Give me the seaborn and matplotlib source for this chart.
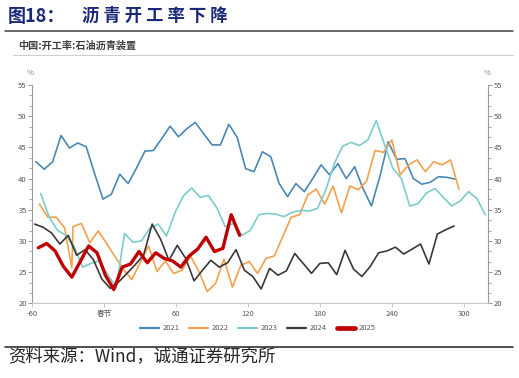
import pandas as pd
import matplotlib
matplotlib.use('Agg')
import matplotlib.pyplot as plt
from matplotlib.lines import Line2D
from matplotlib.ticker import MultipleLocator, AutoMinorLocator
import seaborn as sns

# days relative to Spring Festival, weekly asphalt plant operating rate (%)
days_2021 = [-57, -50, -43, -36, -29, -22, -15, -8, -1, 6, 13, 20, 27, 34, 41, 48, 55, 62, 69, 76,
             83, 90, 97, 104, 111, 118, 125, 132, 139, 146, 153, 160, 167, 174, 181, 188, 195, 202,
             209, 216, 223, 230, 237, 244, 251, 258, 265, 272, 279, 286, 293]
rate_2021 = [42.7, 41.5, 42.7, 46.9, 44.9, 45.7, 45.1, 40.8, 36.7, 37.5, 40.7, 39.2, 41.7, 44.4, 44.5,
             46.4, 48.4, 46.7, 48.0, 49.0, 47.2, 45.4, 45.4, 48.7, 46.6, 41.6, 41.1, 44.3, 43.5, 39.2,
             37.1, 39.2, 37.9, 40.0, 42.2, 40.6, 42.4, 40.0, 41.9, 38.4, 35.6, 40.3, 45.9, 43.1, 43.2,
             40.0, 39.1, 39.4, 40.3, 40.2, 39.9]

days_2022 = [-54, -47, -40, -33, -27, -26, -19, -12, -5, 2, 9, 16, 23, 30, 37, 44, 51, 58, 65, 72,
             79, 86, 93, 100, 107, 114, 121, 128, 135, 142, 149, 156, 163, 170, 177, 184, 191, 198,
             205, 212, 219, 226, 233, 240, 247, 254, 261, 268, 275, 282, 289, 296]
rate_2022 = [35.9, 33.8, 33.8, 32.1, 25.7, 32.3, 32.8, 29.7, 31.6, 29.6, 27.5, 25.5, 23.8, 26.5, 29.2,
             25.1, 26.8, 24.8, 25.3, 27.6, 25.1, 21.9, 23.2, 27.1, 22.6, 26.1, 26.7, 24.8, 27.2, 27.6,
             30.7, 33.8, 34.2, 37.4, 38.3, 35.9, 38.8, 34.5, 38.8, 38.2, 39.6, 44.5, 44.2, 46.2, 40.6,
             42.2, 43.0, 41.1, 42.7, 42.2, 43.0, 38.3]

days_2023 = [-53, -46, -39, -32, -25, -18, -11, -4, 3, 10, 17, 24, 31, 38, 45, 52, 59, 66, 73, 80,
             87, 94, 101, 108, 115, 122, 129, 136, 143, 150, 157, 164, 171, 178, 185, 192, 199, 206,
             213, 220, 227, 234, 241, 248, 255, 262, 269, 276, 283, 290, 297, 304, 311, 318]
rate_2023 = [37.6, 33.9, 31.7, 30.9, 29.1, 25.8, 26.4, 26.8, 24.6, 22.5, 31.2, 29.8, 30.0, 32.0, 32.7,
             30.8, 34.5, 37.2, 38.5, 37.0, 37.3, 35.3, 32.3, 32.8, 30.9, 31.7, 34.2, 34.4, 34.3, 33.9,
             34.6, 34.9, 34.8, 35.2, 38.2, 42.4, 45.2, 45.8, 45.3, 46.2, 49.3, 45.4, 41.6, 40.0, 35.6,
             36.0, 37.7, 38.4, 37.0, 35.6, 36.4, 37.9, 36.8, 34.2]

days_2024 = [-58, -51, -44, -37, -30, -23, -16, -9, -2, 5, 12, 19, 26, 33, 40, 47, 54, 61, 68, 75,
             82, 89, 96, 103, 110, 117, 124, 131, 138, 145, 152, 159, 166, 173, 180, 187, 194, 201,
             208, 215, 222, 229, 236, 243, 250, 257, 264, 271, 278, 285, 292]
rate_2024 = [32.7, 32.2, 31.3, 29.5, 30.9, 27.7, 28.6, 27.0, 23.9, 22.4, 23.4, 24.8, 26.2, 27.8, 32.7,
             30.3, 26.9, 29.3, 27.2, 23.6, 25.3, 26.9, 25.8, 26.5, 28.6, 25.3, 24.3, 22.3, 25.6, 24.5,
             25.2, 28.0, 26.4, 24.8, 26.4, 26.5, 24.6, 28.5, 25.5, 24.3, 25.9, 28.1, 28.4, 29.0, 27.9,
             28.7, 29.5, 26.3, 31.1, 31.8, 32.4]

days_2025 = [-55, -48, -41, -34, -27, -20, -13, -6, 1, 8, 15, 22, 29, 36, 43, 50, 57, 64, 71, 78,
             85, 92, 99, 106, 113]
rate_2025 = [28.9, 29.6, 28.4, 25.9, 24.2, 26.7, 29.2, 28.1, 24.5, 22.2, 25.8, 26.3, 28.3, 26.5, 28.1,
             27.2, 26.8, 25.8, 27.6, 28.7, 30.6, 28.3, 28.8, 34.2, 30.9]

years = ['2021', '2022', '2023', '2024', '2025']
x_ticks = [-60, 0, 60, 120, 180, 240, 300]
x_labels = ['-60', '春节', '60', '120', '180', '240', '300']

colors = {'2021': '#4A88B4', '2022': '#F5A04C', '2023': '#7DCBCB', '2024': '#3B3838', '2025': '#C00000'}
widths = {'2021': 1.2, '2022': 1.2, '2023': 1.2, '2024': 1.2, '2025': 2.4}

series = {'2021': (days_2021, rate_2021), '2022': (days_2022, rate_2022), '2023': (days_2023, rate_2023),
          '2024': (days_2024, rate_2024), '2025': (days_2025, rate_2025)}
frames = [pd.DataFrame({'day': d, 'rate': r, 'year': y}) for y, (d, r) in series.items()]
df = pd.concat(frames, ignore_index=True)

sns.set_style('white')
plt.rcParams['font.family'] = ['Noto Sans CJK SC', 'DejaVu Sans']

fig = plt.figure(figsize=(5.19, 3.78), dpi=100)
ax = fig.add_axes([0.0622, 0.1976, 0.8786, 0.5775])

for y in years:
    sns.lineplot(data=df[df['year'] == y], x='day', y='rate', ax=ax, color=colors[y],
                 linewidth=widths[y], sort=False, estimator=None, legend=False)

ax.set_xlim(-60, 320.5)
ax.set_ylim(20, 55)
ax.set_xticks(x_ticks)
ax.set_xticklabels(x_labels)
ax.yaxis.set_major_locator(MultipleLocator(5))
ax.yaxis.set_minor_locator(AutoMinorLocator(3))
ax.set_xlabel('')
ax.set_ylabel('')

grey = '#9a9a9a'
for s in ['left', 'right', 'bottom']:
    ax.spines[s].set_visible(True)
    ax.spines[s].set_color(grey)
    ax.spines[s].set_linewidth(0.8)
ax.spines['bottom'].set_color('#c8c8c8')
ax.spines['top'].set_visible(False)

ax.tick_params(axis='y', which='major', left=True, right=True, labelleft=True, labelright=True,
               direction='out', length=3, width=0.7, color=grey, labelsize=5.5, labelcolor='#595959', pad=1)
ax.tick_params(axis='y', which='minor', left=True, right=True, direction='out', length=2,
               width=0.6, color=grey)
ax.tick_params(axis='x', which='major', bottom=True, direction='out', length=3, width=0.7,
               color='#c8c8c8', labelsize=5.5, labelcolor='#595959', pad=2)

# % unit labels above both y axes
fig.text(30 / 519, 1 - 73 / 378, '%', fontsize=5.5, color='#7f7f7f', ha='center', va='center')
fig.text(487 / 519, 1 - 73 / 378, '%', fontsize=5.5, color='#7f7f7f', ha='center', va='center')

# header / footer
fig.text(8 / 519, 1 - 16 / 378, '图18：', fontsize=13, fontweight='bold', color='#1B2A78',
         ha='left', va='center')
fig.text(82 / 519, 1 - 16 / 378, '沥 青 开 工 率 下 降', fontsize=12.5, fontweight='bold',
         color='#1B2A78', ha='left', va='center')
fig.add_artist(Line2D([5 / 519, 513 / 519], [1 - 31 / 378, 1 - 31 / 378], color='#404040', lw=1.1))
fig.text(18 / 519, 1 - 46 / 378, '中国:开工率:石油沥青装置', fontsize=7.3, fontweight='bold',
         color='#404040', ha='left', va='center')
fig.add_artist(Line2D([13 / 519, 513 / 519], [1 - 55 / 378, 1 - 55 / 378], color='#cfcfcf', lw=0.8))

handles = [Line2D([], [], color=colors[y], lw=widths[y] + (1.0 if y == '2025' else 0.4)) for y in years]
fig.legend(handles, years, loc='center', bbox_to_anchor=(0.497, 1 - 328.5 / 378), ncol=5,
           frameon=False, fontsize=5.5, handlelength=2.4, handletextpad=0.5, columnspacing=1.3,
           labelcolor='#595959')

fig.add_artist(Line2D([5 / 519, 513 / 519], [1 - 346.5 / 378, 1 - 346.5 / 378], color='#202020', lw=1.1))
fig.text(8 / 519, 1 - 356 / 378, '资料来源：Wind，诚通证券研究所', fontsize=12.5, color='#262626',
         ha='left', va='center')

fig.savefig('out.png', dpi=100)
